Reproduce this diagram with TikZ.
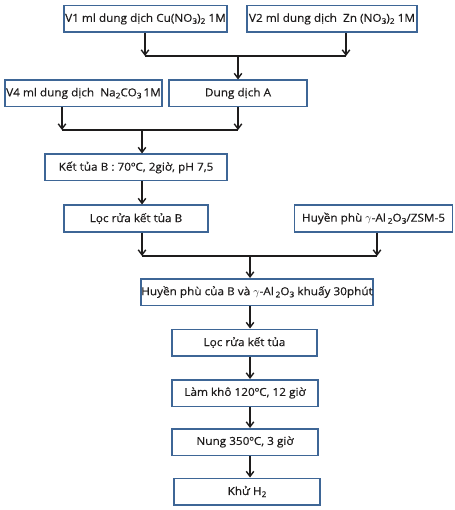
\documentclass[tikz,border=0pt]{standalone}
\usepackage{fontspec}
\setmainfont{Open Sans}[FakeStretch=1.07,FakeBold=0.4]
\usetikzlibrary{arrows.meta}
\definecolor{boxblue}{RGB}{62,102,150}
\definecolor{txt}{RGB}{30,28,28}
\newcommand\lw[1]{\raisebox{-0.35ex}{\fontsize{7.8}{8}\selectfont #1}}
\newcommand\gam{$\gamma$}
\begin{document}
\begin{tikzpicture}[x=1pt,y=-1pt,
  box/.style={draw=boxblue, line width=1.5pt, minimum height=26.5pt, inner sep=0pt,
    font=\fontsize{11}{12}\selectfont, text=txt},
  arr/.style={-{Straight Barb[length=5pt,width=7.5pt,line width=1.4pt]}, line width=1.5pt, draw=txt},
  ln/.style={line width=1.5pt, draw=txt}]
\useasboundingbox (0,0) rectangle (454,510);
% boxes
\node[box, minimum width=163pt] (b1) at (145.5,19) {V1 ml dung dịch Cu(NO\lw{3})\lw{2} 1M};
\node[box, minimum width=170pt] (b2) at (332,19) {V2 ml dung dịch \ Zn (NO\lw{3})\lw{2} 1M};
\node[box, minimum width=157pt] (b3) at (83.5,93.5) {V4 ml dung dịch \ Na\lw{2}CO\lw{3}\,1M};
\node[box, minimum width=138pt] (b4) at (238,93.5) {Dung dịch A};
\node[box, minimum width=182pt] (b5) at (136,167.5) {Kết tủa B : 70ºC, 2giờ, pH 7,5};
\node[box, minimum width=144pt] (b6) at (136,218.5) {Lọc rửa kết tủa B};
\node[box, minimum width=158pt] (b7) at (373.5,218.5) {Huyền phù \gam-Al\,\lw{2}O\lw{3}/ZSM-5};
\node[box, minimum width=230pt] (b8) at (257,292) {Huyền phù của B và \gam-Al\,\lw{2}O\lw{3} khuấy 30phút};
\node[box, minimum width=145pt] (b9) at (244.5,342.5) {Lọc rửa kết tủa};
\node[box, minimum width=146pt] (b10) at (245,393) {Làm khô 120ºC, 12 giờ};
\node[box, minimum width=146pt] (b11) at (245,442) {Nung 350ºC, 3 giờ};
\node[box, minimum width=146pt] (b12) at (247,491.5) {Khử H\lw{2}};
% junctions
\coordinate (j1l) at (145,56);
\coordinate (j1r) at (346,56);
\coordinate (j1) at (238,56);
\coordinate (j2l) at (62,130);
\coordinate (j2r) at (238,130);
\coordinate (j2) at (142,130);
\coordinate (j3l) at (142,256);
\coordinate (j3r) at (377,256);
\coordinate (j3) at (250,256);
% connectors
\draw[arr] (b1.south -| j1l) -- (j1l);
\draw[arr] (b2.south -| j1r) -- (j1r);
\draw[ln] (j1l) -- (j1r);
\draw[arr] (j1) -- (b4.north -| j1);
\draw[arr] (b3.south -| j2l) -- (j2l);
\draw[arr] (b4.south -| j2r) -- (j2r);
\draw[ln] (j2l) -- (j2r);
\draw[arr] (j2) -- (b5.north -| j2);
\draw[arr] (b5.south -| j2) -- (b6.north -| j2);
\draw[arr] (b6.south -| j3l) -- (j3l);
\draw[arr] (b7.south -| j3r) -- (j3r);
\draw[ln] (j3l) -- (j3r);
\draw[arr] (j3) -- (b8.north -| j3);
\draw[arr] (b8.south -| j3) -- (b9.north -| j3);
\draw[arr] (b9.south -| j3) -- (b10.north -| j3);
\draw[arr] (b10.south -| j3) -- (b11.north -| j3);
\draw[arr] (b11.south -| j3) -- (b12.north -| j3);
\end{tikzpicture}
\end{document}
